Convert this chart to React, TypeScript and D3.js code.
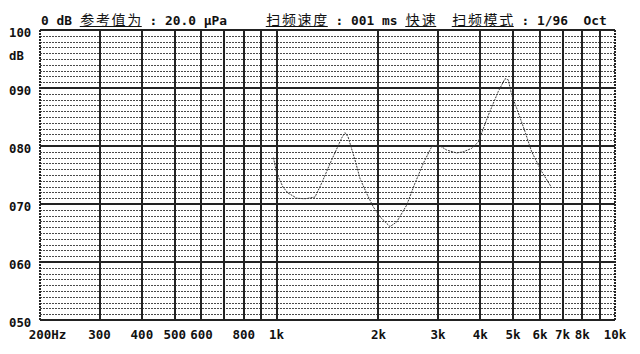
import React, { useMemo } from "react";
import * as d3 from "d3";

// Sweep response (Hz → dB)
const freqs = [
  979, 1001, 1045, 1081, 1147, 1213, 1299, 1359, 1455, 1558, 1593, 1626, 1705,
  1764, 1847, 1931, 2021, 2163, 2264, 2423, 2565, 2714, 2874, 3006, 3182, 3405,
  3561, 3773, 3946, 4223, 4520, 4731, 4839, 4951, 5123, 5420, 5673, 6072, 6501,
];
const levels = [
  78.0, 75.3, 72.9, 71.9, 71.0, 70.9, 71.2, 73.6, 77.6, 81.4, 82.3, 81.6, 77.6,
  74.4, 71.8, 69.5, 67.8, 66.1, 66.9, 69.8, 73.6, 77.0, 79.9, 80.2, 79.3, 78.8,
  79.0, 79.6, 80.7, 85.3, 89.4, 91.6, 91.4, 88.8, 86.5, 82.5, 79.0, 75.6, 72.8,
];

// Grid and tick definitions
const gridFreqs = [
  200, 300, 400, 500, 600, 700, 800, 900, 1000, 2000, 3000, 4000, 5000, 6000,
  7000, 8000, 9000, 10000,
];
const tickFreqs = [200, 300, 400, 500, 600, 800, 1000, 2000, 3000, 4000, 5000, 6000, 7000, 8000, 10000];
const tickLabels = ["200", "300", "400", "500", "600", "800", "1k", "2k", "3k", "4k", "5k", "6k", "7k", "8k", "10k"];
const dbMajor = [100, 90, 80, 70, 60, 50];
const dbLabels = ["100", "090", "080", "070", "060", "050"];
const header = "0 dB 参考值为 : 20.0 μPa     扫频速度 : 001 ms 快速  扫频模式 : 1/96  Oct";

const W = 640;
const H = 354;
const MONO = "'DejaVu Sans Mono', 'Liberation Mono', monospace";
const CJK = "'Noto Sans CJK SC', sans-serif";
const CELL = 7.75;

const isWide = (ch: string) => /[\u2E80-\u9FFF\uFF00-\uFFEF]/.test(ch);

// Lay the header out on a fixed character grid (wide glyphs take two cells)
function headerRuns(text: string) {
  const runs: { text: string; cell: number; cells: number; wide: boolean }[] = [];
  let cell = 0;
  let cur: { text: string; cell: number; cells: number; wide: boolean } | null = null;
  for (const ch of Array.from(text)) {
    const wide = isWide(ch);
    const w = wide ? 2 : 1;
    if (ch === " ") {
      cur = null;
      cell += 1;
      continue;
    }
    if (!cur || cur.wide !== wide) {
      cur = { text: "", cell, cells: 0, wide };
      runs.push(cur);
    }
    cur.text += ch;
    cur.cells += w;
    cell += w;
  }
  return runs;
}

export default function App() {
  const x = useMemo(() => d3.scaleLog().domain([200, 10000]).range([40, 615]), []);
  const y = useMemo(() => d3.scaleLinear().domain([50, 100]).range([320, 30]), []);

  const minorDb = d3.range(51, 100).filter((v) => v % 10 !== 0);
  const line = d3
    .line<number>()
    .x((_, i) => x(freqs[i]))
    .y((d) => y(d))
    .curve(d3.curveLinear);

  const runs = headerRuns(header);
  const x0 = 41;

  return (
    <div style={{ position: "fixed", left: 0, top: 0, width: W, height: H, background: "#fff" }}>
      <svg width={W} height={H} style={{ display: "block" }}>
        <rect width={W} height={H} fill="#fff" />
        {/* header line */}
        {runs.map((r, i) =>
          r.wide ? (
            <g key={i}>
              <text
                x={x0 + r.cell * CELL + 0.5}
                y={25}
                fontFamily={CJK}
                fontSize={14}
                fill="#111"
                textLength={r.cells * CELL - 1}
                lengthAdjust="spacing"
              >
                {r.text}
              </text>
              <line
                x1={x0 + r.cell * CELL}
                x2={x0 + (r.cell + r.cells) * CELL}
                y1={26.5}
                y2={26.5}
                stroke="#111"
                strokeWidth={1}
              />
            </g>
          ) : (
            <text
              key={i}
              x={x0 + r.cell * CELL}
              y={25}
              fontFamily={MONO}
              fontWeight="bold"
              fontSize={12.87}
              fill="#111"
            >
              {r.text}
            </text>
          )
        )}

        <g shapeRendering="crispEdges">
          {/* minor dB grid */}
          {minorDb.map((v) => (
            <line
              key={v}
              x1={x(200)}
              x2={x(10000)}
              y1={Math.round(y(v)) + 0.5}
              y2={Math.round(y(v)) + 0.5}
              stroke="#4a4a4a"
              strokeWidth={1}
              strokeDasharray="2,1"
            />
          ))}
          {/* major dB grid */}
          {dbMajor.map((v) => (
            <line
              key={v}
              x1={x(200)}
              x2={x(10000)}
              y1={Math.round(y(v))}
              y2={Math.round(y(v))}
              stroke="#222"
              strokeWidth={2}
            />
          ))}
          {/* frequency grid */}
          {gridFreqs.map((f) => {
            const edge = f === 200 || f === 10000;
            return (
              <line
                key={f}
                x1={Math.round(x(f))}
                x2={Math.round(x(f))}
                y1={y(100)}
                y2={y(50)}
                stroke="#222"
                strokeWidth={edge ? 1.5 : 2}
                strokeDasharray={edge ? "2,1" : undefined}
              />
            );
          })}
        </g>

        {/* response curve */}
        <path
          d={line(levels) || ""}
          fill="none"
          stroke="#3a3a3a"
          strokeWidth={1}
          strokeDasharray="2,1"
        />

        {/* dB axis labels */}
        {dbMajor.map((v, i) => (
          <text key={v} x={9} y={y(v) + 6.5} fontFamily={MONO} fontWeight="bold" fontSize={12.3} fill="#111">
            {dbLabels[i]}
          </text>
        ))}
        <text x={9} y={60} fontFamily={MONO} fontWeight="bold" fontSize={12.3} fill="#111">
          dB
        </text>

        {/* frequency axis labels */}
        {tickFreqs.map((f, i) =>
          i === 0 ? (
            <text
              key={f}
              x={x(f) - (tickLabels[i].length * 7.55) / 2}
              y={339}
              fontFamily={MONO}
              fontWeight="bold"
              fontSize={12.5}
              fill="#111"
            >
              {tickLabels[i]}Hz
            </text>
          ) : (
            <text
              key={f}
              x={x(f)}
              y={339}
              textAnchor="middle"
              fontFamily={MONO}
              fontWeight="bold"
              fontSize={12.5}
              fill="#111"
            >
              {tickLabels[i]}
            </text>
          )
        )}
      </svg>
    </div>
  );
}
